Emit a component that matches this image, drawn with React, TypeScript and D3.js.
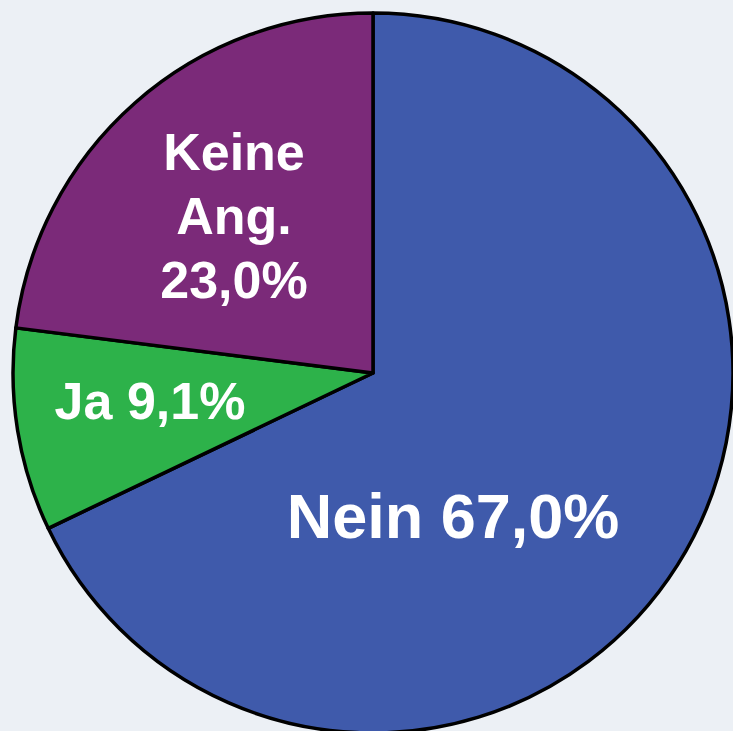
import React from "react";
import * as d3 from "d3";

const categories = ["Nein", "Ja", "Keine Ang."];
const values = [67.9, 9.1, 23.0];
const labelLines = [["Nein 67,0%"], ["Ja 9,1%"], ["Keine", "Ang.", "23,0%"]];
const colors = ["#3F5AAB", "#2DB24A", "#7B2A79"];

// label layout: [x, y of first baseline, font size, line height]
const labelLayout: [number, number, number, number][] = [
  [453, 538, 63, 0],
  [150, 419, 52, 0],
  [234, 170, 52, 64],
];

export default function App() {
  const W = 733, H = 731;
  const cx = 373, cy = 373, r = 360;
  const pie = d3.pie<number>().sort(null).value((d) => d);
  const arcs = pie(values);
  const arcGen = d3.arc<d3.PieArcDatum<number>>().innerRadius(0).outerRadius(r);
  return (
    <svg width={W} height={H} style={{ position: "absolute", left: 0, top: 0, display: "block" }}>
      <rect width={W} height={H} fill="#ECF0F5" />
      <g transform={`translate(${cx},${cy})`}>
        {arcs.map((a, i) => (
          <path key={categories[i]} d={arcGen(a) || ""} fill={colors[i]} stroke="#000" strokeWidth={3.5} strokeLinejoin="round" />
        ))}
      </g>
      {labelLines.map((lines, i) => (
        <text key={i} fill="#fff" fontFamily="Liberation Sans, Arial, sans-serif" fontWeight="bold" fontSize={labelLayout[i][2]} textAnchor="middle">
          {lines.map((t, j) => (
            <tspan key={j} x={labelLayout[i][0]} y={labelLayout[i][1] + j * labelLayout[i][3]}>{t}</tspan>
          ))}
        </text>
      ))}
    </svg>
  );
}
